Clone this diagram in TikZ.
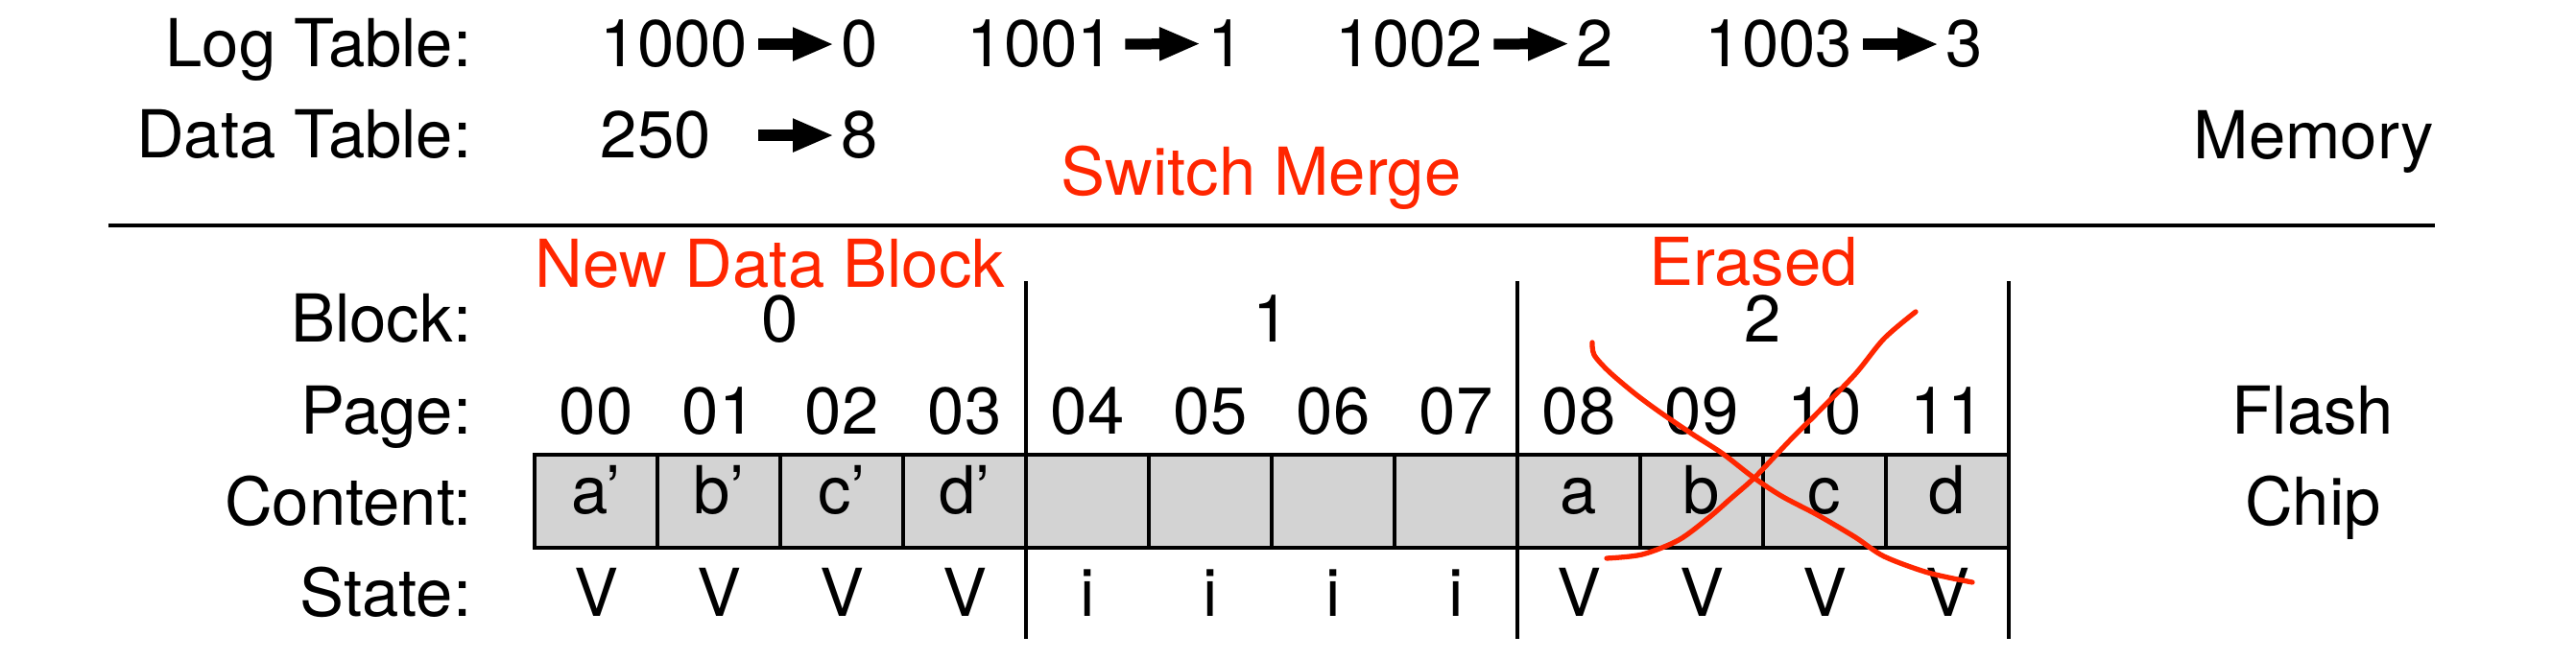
\documentclass[tikz,border=0pt]{standalone}
\usepackage{fontspec}
\setmainfont{TeX Gyre Heros}
\usetikzlibrary{arrows.meta}
\definecolor{markred}{RGB}{255,38,0}
\definecolor{cellgray}{RGB}{211,211,211}

\begin{document}
\begin{tikzpicture}[font=\fontsize{19.6}{23}\selectfont, inner sep=0pt]
        \tikzset{lbl/.style={anchor=base east},
                 num/.style={anchor=base west, text width=1.54cm, align=left},
                 val/.style={anchor=base west},
                 map/.style={line width=3.2pt, -{Triangle[length=4.3mm, width=3.2mm]},
                             shorten <=1.0mm, shorten >=0.7mm},
                 note/.style={text=markred},
                 pg/.style={anchor=base},
                 cell/.style={draw, line width=1pt, fill=cellgray, minimum width=1.28cm,
                              minimum height=0.97cm, text height=0.72em, text depth=0pt},
                 sep/.style={line width=1pt},
                 scribble/.style={draw=markred, line width=1.5pt, line cap=round}}
        \useasboundingbox (0,0) rectangle (26.84,6.88);
        %% Tablas en memoria
        \node[lbl] (logl) at (4.92,6.18) {Log Table:};
        \node[lbl] (datl) at (4.92,5.23) {Data Table:};
        \node[num] (k0) at (6.25,6.18)  {1000}; \node[val] (v0) at (8.76,6.18)  {0};
        \node[num] (k1) at (10.07,6.18) {1001}; \node[val] (v1) at (12.58,6.18) {1};
        \node[num] (k2) at (13.91,6.18) {1002}; \node[val] (v2) at (16.42,6.18) {2};
        \node[num] (k3) at (17.76,6.18) {1003}; \node[val] (v3) at (20.27,6.18) {3};
        \node[num] (kd) at (6.25,5.23)  {250};  \node[val] (vd) at (8.76,5.23)  {8};
        \draw[map] (k0.east) -- (v0.west);
        \draw[map] (k1.east) -- (v1.west);
        \draw[map] (k2.east) -- (v2.west);
        \draw[map] (k3.east) -- (v3.west);
        \draw[map] (kd.east) -- (vd.west);
        \node[anchor=base east] (mem) at (25.37,5.22) {Memory};
        \node[note, anchor=base] (swm) at (13.14,4.84) {Switch Merge};
        \draw[line width=1.1pt] (1.13,4.53) -- (25.37,4.53);
        %% Chip flash
        \node[lbl] (blkl) at (4.92,3.31) {Block:};
        \node[lbl] (pagl) at (4.92,2.35) {Page:};
        \node[lbl] (conl) at (4.92,1.40) {Content:};
        \node[lbl] (stal) at (4.92,0.45) {State:};
        \node[note, anchor=base west] (ndb) at (5.57,3.88) {New Data Block};
        \node[note, anchor=base] (era) at (18.27,3.90) {Erased};
        \node[pg] (b0) at (8.13,3.31)  {0};
        \node[pg] (b1) at (13.25,3.31) {1};
        \node[pg] (b2) at (18.37,3.31) {2};
        %% Paginas
        \node[pg] (p0) at (6.21,2.35)  {00}; \node[pg] (p1) at (7.49,2.35)   {01};
        \node[pg] (p2) at (8.77,2.35)  {02}; \node[pg] (p3) at (10.05,2.35)  {03};
        \node[pg] (p4) at (11.33,2.35) {04}; \node[pg] (p5) at (12.61,2.35)  {05};
        \node[pg] (p6) at (13.89,2.35) {06}; \node[pg] (p7) at (15.17,2.35)  {07};
        \node[pg] (p8) at (16.45,2.35) {08}; \node[pg] (p9) at (17.73,2.35)  {09};
        \node[pg] (p10) at (19.01,2.35) {10}; \node[pg] (p11) at (20.29,2.35) {11};
        %% Contenido
        \node[cell] (c0) at (6.21,1.655)  {a’}; \node[cell] (c1) at (7.49,1.655)   {b’};
        \node[cell] (c2) at (8.77,1.655)  {c’}; \node[cell] (c3) at (10.05,1.655)  {d’};
        \node[cell] (c4) at (11.33,1.655) {};   \node[cell] (c5) at (12.61,1.655)  {};
        \node[cell] (c6) at (13.89,1.655) {};   \node[cell] (c7) at (15.17,1.655)  {};
        \node[cell] (c8) at (16.45,1.655) {a};  \node[cell] (c9) at (17.73,1.655)  {b};
        \node[cell] (c10) at (19.01,1.655) {c}; \node[cell] (c11) at (20.29,1.655) {d};
        %% Estados
        \node[pg] (s0) at (6.21,0.45)  {V}; \node[pg] (s1) at (7.49,0.45)   {V};
        \node[pg] (s2) at (8.77,0.45)  {V}; \node[pg] (s3) at (10.05,0.45)  {V};
        \node[pg] (s4) at (11.33,0.45) {i}; \node[pg] (s5) at (12.61,0.45)  {i};
        \node[pg] (s6) at (13.89,0.45) {i}; \node[pg] (s7) at (15.17,0.45)  {i};
        \node[pg] (s8) at (16.45,0.45) {V}; \node[pg] (s9) at (17.73,0.45)  {V};
        \node[pg] (s10) at (19.01,0.45) {V}; \node[pg] (s11) at (20.29,0.45) {V};
        %% Separadores de bloque
        \draw[sep] (10.69,0.22) -- (10.69,3.95);
        \draw[sep] (15.81,0.22) -- (15.81,3.95);
        \draw[sep] (20.93,0.22) -- (20.93,3.95);
        \node[pg] (fla) at (24.10,2.35) {Flash};
        \node[pg] (chp) at (24.10,1.40) {Chip};
        %% Bloque 2 tachado
        \draw[scribble] plot[smooth] coordinates {(16.59,3.31) (16.61,3.18) (16.76,3.01)
              (17.03,2.78) (17.30,2.58) (17.64,2.35) (17.95,2.15) (18.26,1.91) (18.56,1.71)
              (18.94,1.51) (19.33,1.28) (19.63,1.08) (20.09,0.91) (20.55,0.81)};
        \draw[scribble] plot[smooth] coordinates {(16.74,1.06) (17.11,1.10) (17.49,1.25)
              (17.80,1.48) (18.03,1.68) (18.29,1.91) (18.64,2.28) (18.94,2.58) (19.33,2.98)
              (19.63,3.35) (19.96,3.63)};
\end{tikzpicture}
\end{document}
